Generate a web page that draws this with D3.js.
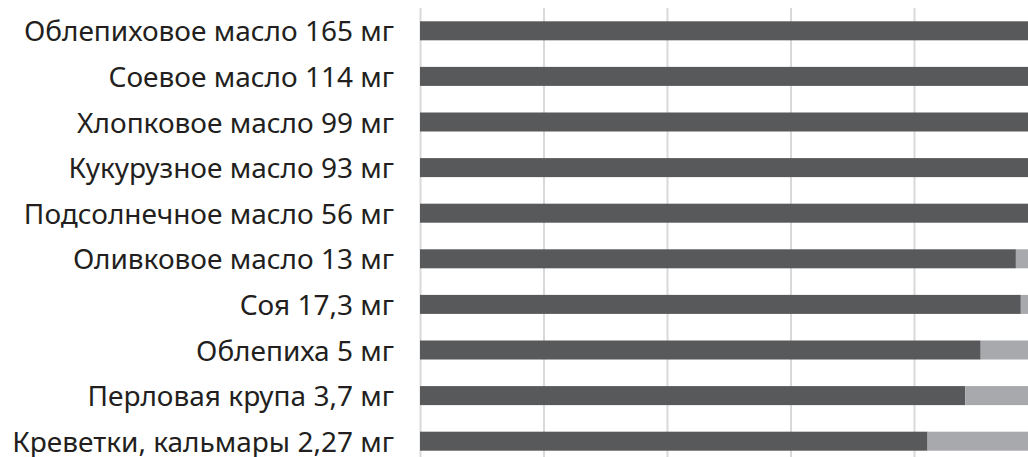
<!DOCTYPE html>
<html>
<head>
<meta charset="utf-8">
<script src="https://cdn.jsdelivr.net/npm/d3@7"></script>
<style>
  body { margin: 0; background: #fff; }
  svg { display: block; }
</style>
</head>
<body>
<svg id="chart" width="1028" height="457"></svg>
<script>
// categories, top to bottom
const categories = [
  "Облепиховое масло 165 мг",
  "Соевое масло 114 мг",
  "Хлопковое масло 99 мг",
  "Кукурузное масло 93 мг",
  "Подсолнечное масло 56 мг",
  "Оливковое масло 13 мг",
  "Соя 17,3 мг",
  "Облепиха 5 мг",
  "Перловая крупа 3,7 мг",
  "Креветки, кальмары 2,27 мг"
];
// dark share and light share (percent)
const darkValues = [100, 100, 100, 100, 100, 96.5, 97.3, 90.8, 88.3, 82.2];
const lightValues = [0, 0, 0, 0, 0, 3.5, 2.7, 9.2, 11.7, 17.8];
const ticks = [0, 20, 40, 60, 80, 100];

const DARK = "#58595b";
const LIGHT = "#a7a9ac";
const GRID = "#d9d9d9";

const svg = d3.select("#chart");

const plotLeft = 420, plotRight = 1037.5, plotTop = 8, plotBottom = 464;

const x = d3.scaleLinear().domain([0, 100]).range([plotLeft, plotRight]);
const y = d3.scaleBand()
  .domain(categories)
  .range([plotTop, plotBottom])
  .paddingInner(0.583)
  .paddingOuter(0.2915);

// gridlines
const grid = svg.append("g")
  .attr("transform", `translate(0,${plotBottom})`)
  .call(d3.axisBottom(x).tickValues(ticks).tickSize(-(plotBottom - plotTop)).tickFormat(""));
grid.select(".domain").remove();
grid.selectAll("line").attr("stroke", GRID).attr("stroke-width", 2);

// stacked bars
const rows = categories.map((c, i) => ({ cat: c, dark: darkValues[i], light: lightValues[i] }));
const series = d3.stack().keys(["dark", "light"])(rows);
const colors = { dark: DARK, light: LIGHT };

svg.append("g").selectAll("g")
  .data(series)
  .join("g")
  .attr("fill", d => colors[d.key])
  .selectAll("rect")
  .data(d => d)
  .join("rect")
  .attr("x", d => x(d[0]))
  .attr("y", d => y(d.data.cat))
  .attr("width", d => x(d[1]) - x(d[0]))
  .attr("height", y.bandwidth());

// category labels
const yAxis = svg.append("g")
  .attr("transform", `translate(${plotLeft - 26},0)`)
  .call(d3.axisLeft(y).tickSize(0).tickPadding(0));
yAxis.select(".domain").remove();
yAxis.selectAll("text")
  .attr("font-family", "'Noto Sans', sans-serif")
  .attr("font-size", 28)
  .attr("dy", "0.38em")
  .attr("fill", "#231f20");
</script>
</body>
</html>
